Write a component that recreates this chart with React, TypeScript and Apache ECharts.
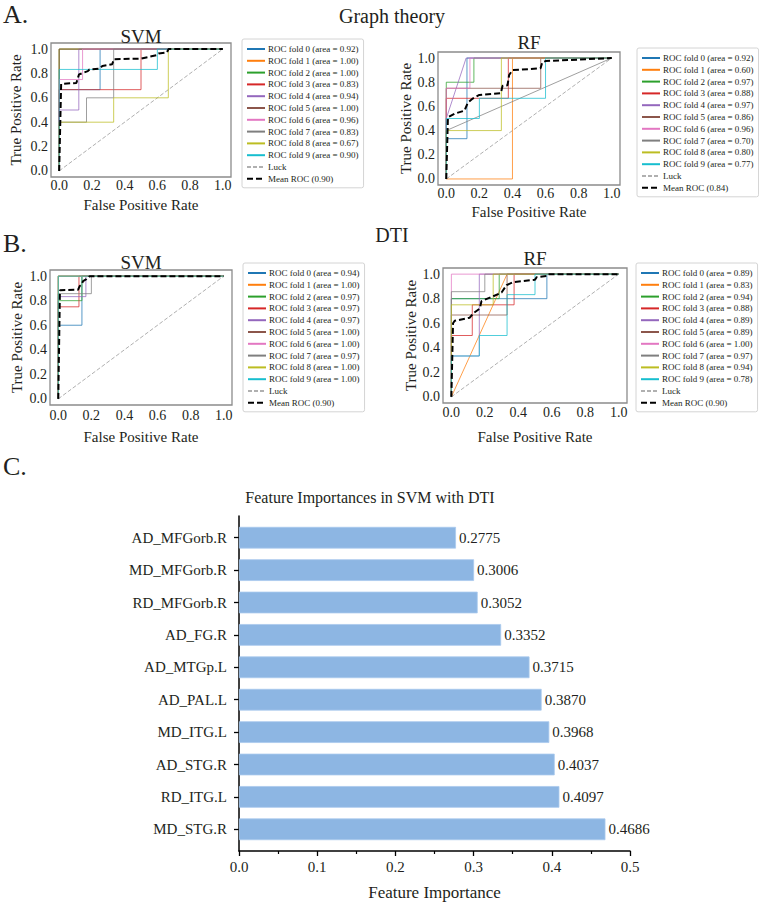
import React, { useEffect, useRef } from 'react';
import * as echarts from 'echarts';

const SERIF = '"Liberation Serif", "Times New Roman", serif';
const TEXT = '#231f20';
const FOLD_COLORS = ['#1f77b4', '#ff7f0e', '#2ca02c', '#d62728', '#9467bd', '#8c564b', '#e377c2', '#7f7f7f', '#bcbd22', '#17becf'];

// ---------- ROC data (fpr, tpr points per fold) ----------
const svmGraphAuc = [0.92, 1.0, 1.0, 0.83, 0.94, 1.0, 0.96, 0.83, 0.67, 0.9];
const svmGraphMeanAuc = 0.9;
const svmGraphFolds = [
  [[0, 0], [0, 0.667], [0.25, 0.667], [0.25, 1], [1, 1]],
  [[0, 0], [0, 1], [1, 1]],
  [[0, 0], [0, 1], [1, 1]],
  [[0, 0], [0, 0.667], [0.5, 0.667], [0.5, 1], [1, 1]],
  [[0, 0], [0, 0.5], [0.12, 0.5], [0.12, 1], [1, 1]],
  [[0, 0], [0, 1], [1, 1]],
  [[0, 0], [0, 0.75], [0.143, 0.75], [0.143, 1], [1, 1]],
  [[0, 0], [0, 0.4], [0.167, 0.4], [0.167, 0.6], [0.333, 0.6], [0.333, 1], [1, 1]],
  [[0, 0], [0, 0.4], [0.333, 0.4], [0.333, 0.6], [0.667, 0.6], [0.667, 1], [1, 1]],
  [[0, 0], [0, 0.833], [0.6, 0.833], [0.6, 1], [1, 1]],
];
const svmGraphMean = [[0, 0], [0.012, 0.714], [0.105, 0.722], [0.121, 0.792], [0.175, 0.819], [0.185, 0.833], [0.245, 0.839], [0.264, 0.861], [0.324, 0.875], [0.334, 0.917], [0.5, 0.922], [0.598, 0.95], [0.608, 0.964], [0.658, 0.972], [0.668, 1], [1, 1]];

const rfGraphAuc = [0.92, 0.6, 0.97, 0.88, 0.97, 0.86, 0.96, 0.7, 0.8, 0.77];
const rfGraphMeanAuc = 0.84;
const rfGraphFolds = [
  [[0, 0], [0, 0.333], [0.125, 0.333], [0.125, 1], [1, 1]],
  [[0, 0], [0.4, 0], [0.4, 1], [1, 1]],
  [[0, 0], [0, 0.8], [0.167, 0.8], [0.167, 1], [1, 1]],
  [[0, 0], [0, 0.667], [0.375, 0.667], [0.375, 1], [1, 1]],
  [[0, 0], [0, 0.5], [0.12, 1], [1, 1]],
  [[0, 0], [0, 0.75], [0.571, 0.75], [0.571, 1], [1, 1]],
  [[0, 0], [0, 0.75], [0.143, 0.75], [0.143, 1], [1, 1]],
  [[0, 0], [0, 0.4], [1, 1]],
  [[0, 0], [0, 0.4], [0.333, 0.4], [0.333, 1], [1, 1]],
  [[0, 0], [0, 0.5], [0.2, 0.5], [0.2, 0.667], [0.6, 0.667], [0.6, 1], [1, 1]],
];
const rfGraphMean = [[0, 0], [0.01, 0.51], [0.05, 0.54], [0.11, 0.565], [0.13, 0.63], [0.16, 0.665], [0.2, 0.695], [0.33, 0.71], [0.34, 0.77], [0.37, 0.775], [0.38, 0.86], [0.4, 0.9], [0.57, 0.915], [0.58, 0.965], [0.6, 0.975], [1, 1]];

const svmDtiAuc = [0.94, 1.0, 0.97, 0.97, 0.97, 1.0, 1.0, 0.97, 1.0, 1.0];
const svmDtiMeanAuc = 0.9;
const svmDtiFolds = [
  [[0, 0], [0, 0.6], [0.143, 0.6], [0.143, 1], [1, 1]],
  [[0, 0], [0, 1], [1, 1]],
  [[0, 0], [0, 0.8], [0.143, 0.8], [0.143, 1], [1, 1]],
  [[0, 0], [0, 0.75], [0.125, 0.75], [0.125, 1], [1, 1]],
  [[0, 0], [0, 0.833], [0.167, 0.833], [0.167, 1], [1, 1]],
  [[0, 0], [0, 1], [1, 1]],
  [[0, 0], [0, 1], [1, 1]],
  [[0, 0], [0, 0.857], [0.2, 0.857], [0.2, 1], [1, 1]],
  [[0, 0], [0, 1], [1, 1]],
  [[0, 0], [0, 1], [1, 1]],
];
const svmDtiMean = [[0, 0], [0.01, 0.885], [0.12, 0.89], [0.13, 0.92], [0.14, 0.93], [0.15, 0.96], [0.17, 0.975], [0.19, 1], [1, 1]];

const rfDtiAuc = [0.89, 0.83, 0.94, 0.88, 0.89, 0.89, 1.0, 0.97, 0.94, 0.78];
const rfDtiMeanAuc = 0.9;
const rfDtiFolds = [
  [[0, 0], [0, 0.8], [0.571, 0.8], [0.571, 1], [1, 1]],
  [[0, 0], [0.333, 1], [1, 1]],
  [[0, 0], [0, 0.8], [0.286, 0.8], [0.286, 1], [1, 1]],
  [[0, 0], [0, 0.5], [0.125, 0.5], [0.125, 0.75], [0.375, 0.75], [0.375, 1], [1, 1]],
  [[0, 0], [0, 0.333], [0.167, 0.333], [0.167, 1], [1, 1]],
  [[0, 0], [0, 0.667], [0.333, 0.667], [0.333, 1], [1, 1]],
  [[0, 0], [0, 1], [1, 1]],
  [[0, 0], [0, 0.857], [0.2, 0.857], [0.2, 1], [1, 1]],
  [[0, 0], [0, 0.75], [0.25, 0.75], [0.25, 1], [1, 1]],
  [[0, 0], [0, 0.333], [0.167, 0.333], [0.167, 0.5], [0.333, 0.5], [0.333, 0.833], [0.5, 0.833], [0.5, 1], [1, 1]],
];
const rfDtiMean = [[0, 0], [0.01, 0.6], [0.02, 0.62], [0.11, 0.645], [0.13, 0.68], [0.17, 0.72], [0.18, 0.78], [0.25, 0.82], [0.3, 0.85], [0.33, 0.91], [0.37, 0.935], [0.5, 0.955], [0.51, 0.975], [0.57, 0.985], [0.58, 1], [1, 1]];

const luckLine = [[0, 0], [1, 1]];
const rocTicks = [0, 0.2, 0.4, 0.6, 0.8, 1.0];

// ---------- Feature importance data ----------
const features = ['AD_MFGorb.R', 'MD_MFGorb.R', 'RD_MFGorb.R', 'AD_FG.R', 'AD_MTGp.L', 'AD_PAL.L', 'MD_ITG.L', 'AD_STG.R', 'RD_ITG.L', 'MD_STG.R'];
const importances = [0.2775, 0.3006, 0.3052, 0.3352, 0.3715, 0.387, 0.3968, 0.4037, 0.4097, 0.4686];
const importanceTicks = [0, 0.1, 0.2, 0.3, 0.4, 0.5];

function buildOption() {
  const panels = [
    { grid: { left: 51, top: 43, width: 180, height: 134 }, folds: svmGraphFolds, aucs: svmGraphAuc, mean: svmGraphMean, meanAuc: svmGraphMeanAuc, leg: { left: 242, top: 39 }, xGap: 20, yGap: 28, xMargin: 1 },
    { grid: { left: 438, top: 52, width: 182, height: 133 }, folds: rfGraphFolds, aucs: rfGraphAuc, mean: rfGraphMean, meanAuc: rfGraphMeanAuc, leg: { left: 637, top: 48 }, xGap: 19, yGap: 25, xMargin: 1 },
    { grid: { left: 50, top: 270, width: 182, height: 135 }, folds: svmDtiFolds, aucs: svmDtiAuc, mean: svmDtiMean, meanAuc: svmDtiMeanAuc, leg: { left: 243, top: 263 }, xGap: 24, yGap: 26, xMargin: 3 },
    { grid: { left: 443, top: 268, width: 184, height: 135 }, folds: rfDtiFolds, aucs: rfDtiAuc, mean: rfDtiMean, meanAuc: rfDtiMeanAuc, leg: { left: 636, top: 263 }, xGap: 26, yGap: 24, xMargin: 2 },
  ];

  const grid: any[] = [];
  const xAxis: any[] = [];
  const yAxis: any[] = [];
  const series: any[] = [];
  const legend: any[] = [];

  const tickLabel = { fontFamily: SERIF, fontSize: 14, color: TEXT };
  const nameStyle = { fontFamily: SERIF, fontSize: 15, color: TEXT };

  panels.forEach((p, i) => {
    grid.push({ ...p.grid, show: true, borderColor: '#8c8c8c', borderWidth: 1.3, backgroundColor: 'transparent' });
    xAxis.push({
      gridIndex: i, type: 'value', min: -0.05, max: 1.05,
      axisLine: { show: false }, axisTick: { show: false }, splitLine: { show: false },
      axisLabel: { ...tickLabel, margin: p.xMargin, customValues: rocTicks, formatter: (v: number) => v.toFixed(1) },
      name: 'False Positive Rate', nameLocation: 'middle', nameGap: p.xGap, nameTextStyle: nameStyle,
    });
    yAxis.push({
      gridIndex: i, type: 'value', min: -0.05, max: 1.05,
      axisLine: { show: false }, axisTick: { show: false }, splitLine: { show: false },
      axisLabel: { ...tickLabel, margin: 3, customValues: rocTicks, formatter: (v: number) => v.toFixed(1) },
      name: 'True Positive Rate', nameLocation: 'middle', nameRotate: 90, nameGap: p.yGap, nameTextStyle: nameStyle,
    });
    const names: string[] = [];
    p.folds.forEach((pts, k) => {
      const name = `ROC fold ${k} (area = ${p.aucs[k].toFixed(2)})`;
      names.push(name);
      series.push({
        type: 'line', name, xAxisIndex: i, yAxisIndex: i, data: pts, symbol: 'none', z: 2,
        lineStyle: { color: FOLD_COLORS[k], width: 1, opacity: 0.75 }, itemStyle: { color: FOLD_COLORS[k] },
      });
    });
    series.push({
      type: 'line', name: 'Luck', xAxisIndex: i, yAxisIndex: i, data: luckLine, symbol: 'none', z: 1,
      lineStyle: { color: '#b0b0b0', width: 1, type: [4, 2] }, itemStyle: { color: '#b0b0b0' },
    });
    const meanName = `Mean ROC (${p.meanAuc.toFixed(2)})`;
    series.push({
      type: 'line', name: meanName, xAxisIndex: i, yAxisIndex: i, data: p.mean, symbol: 'none', z: 5,
      lineStyle: { color: '#000', width: 2, type: [6, 3] }, itemStyle: { color: '#000' },
    });
    names.push('Luck', meanName);
    legend.push({
      orient: 'vertical', left: p.leg.left, top: p.leg.top, data: names, selectedMode: false,
      itemWidth: 18, itemHeight: 8, itemGap: 1.8, padding: [5, 5, 4, 4],
      borderColor: '#d4d4d4', borderWidth: 1, borderRadius: 2, backgroundColor: '#fff',
      itemStyle: { opacity: 0, borderWidth: 0 },
      lineStyle: { opacity: 1 },
      textStyle: { fontFamily: SERIF, fontSize: 9, color: TEXT, lineHeight: 10, padding: [0, 0, 0, -2] },
    });
  });

  // bars grid (index 4) and frame grid (index 5)
  grid.push({ left: 239, top: 521.5, width: 391, height: 324 });
  grid.push({ left: 239, top: 516, width: 391, height: 335 });
  xAxis.push({ gridIndex: 4, type: 'value', min: 0, max: 0.5, show: false });
  yAxis.push({
    gridIndex: 4, type: 'category', data: features, inverse: true,
    axisLine: { show: false },
    axisTick: { show: true, alignWithLabel: true, length: 5, lineStyle: { color: '#000', width: 1.3 } },
    axisLabel: { fontFamily: SERIF, fontSize: 15, color: TEXT, margin: 12 },
    splitLine: { show: false },
  });
  xAxis.push({
    gridIndex: 5, type: 'value', min: 0, max: 0.5, interval: 0.1,
    axisLine: { show: true, lineStyle: { color: '#000', width: 1.5 } },
    axisTick: { show: true, length: 5, lineStyle: { color: '#000', width: 1.3 } },
    minorTick: { show: true, splitNumber: 2, length: 3, lineStyle: { color: '#000', width: 1.2 } },
    splitLine: { show: false }, minorSplitLine: { show: false },
    axisLabel: { fontFamily: SERIF, fontSize: 15, color: TEXT, margin: 8, customValues: importanceTicks, formatter: (v: number) => v.toFixed(1) },
    name: 'Feature Importance', nameLocation: 'middle', nameGap: 33, nameTextStyle: { fontFamily: SERIF, fontSize: 17, color: TEXT },
  });
  yAxis.push({
    gridIndex: 5, type: 'value', min: 0, max: 1,
    axisLine: { show: true, lineStyle: { color: '#000', width: 1.5 } },
    axisTick: { show: false }, axisLabel: { show: false }, splitLine: { show: false },
  });
  series.push({
    type: 'bar', name: 'Feature importance', xAxisIndex: 4, yAxisIndex: 4, data: importances, barWidth: 21.7,
    itemStyle: { color: '#8db6e3', borderColor: '#a9c9ee', borderWidth: 0.8 },
    label: {
      show: true, position: 'right', distance: 3, fontFamily: SERIF, fontSize: 15, color: TEXT,
      formatter: (p: any) => Number(p.value).toFixed(4),
    },
  });

  const txt = (text: string, x: number, y: number, size: number, align = 'center') => ({
    type: 'text', x, y, silent: true,
    style: { text, fontFamily: SERIF, fontSize: size, fill: TEXT, align, verticalAlign: 'middle' },
  });

  return {
    animation: false,
    backgroundColor: '#fff',
    grid, xAxis, yAxis, series, legend,
    graphic: [
      txt('A.', 3, 14, 26, 'left'),
      txt('Graph theory', 392, 16, 20),
      txt('SVM', 141, 36, 19),
      txt('RF', 529, 42, 19),
      txt('B.', 3, 243, 26, 'left'),
      txt('DTI', 392, 235, 20),
      txt('SVM', 141, 262, 19),
      txt('RF', 535, 258, 19),
      txt('C.', 3, 466, 26, 'left'),
      txt('Feature Importances in SVM with DTI', 370, 497, 16),
    ],
  };
}

export default function App() {
  const ref = useRef<HTMLDivElement>(null);
  useEffect(() => {
    const chart = echarts.init(ref.current!, null, { renderer: 'svg' });
    chart.setOption(buildOption() as any);
    return () => chart.dispose();
  }, []);
  return <div ref={ref} style={{ position: 'absolute', left: 0, top: 0, width: 759, height: 902 }} />;
}
